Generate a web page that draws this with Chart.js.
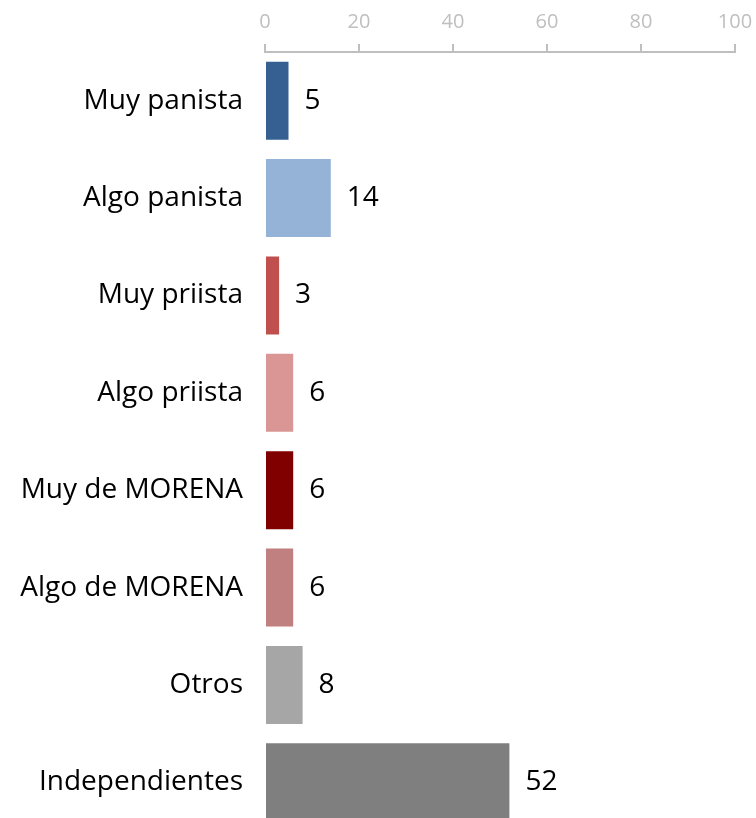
<!DOCTYPE html>
<html lang="es">
<head>
    <meta charset="UTF-8">
    <title>Identificación partidista</title>
    <script src="https://cdn.jsdelivr.net/npm/chart.js"></script>
    <style>
        html, body { margin: 0; padding: 0; background: #fff; overflow: hidden; }
        canvas { display: block; }
    </style>
</head>
<body>
    <canvas id="myChart" width="756" height="831"></canvas>
    <script>
        // categories and values
        const categories = ['Muy panista', 'Algo panista', 'Muy priista', 'Algo priista',
            'Muy de MORENA', 'Algo de MORENA', 'Otros', 'Independientes'];
        const values = [5, 14, 3, 6, 6, 6, 8, 52];
        const barColors = ['#376092', '#95B3D7', '#C0504D', '#D99694',
            '#800000', '#C0807F', '#A6A6A6', '#7F7F7F'];
        const xTicks = [0, 20, 40, 60, 80, 100];

        const FONT = "'Open Sans', sans-serif";

        // draws the value to the right of each bar
        const valueLabels = {
            id: 'valueLabels',
            afterDatasetsDraw(chart) {
                const ctx = chart.ctx;
                const meta = chart.getDatasetMeta(0);
                ctx.save();
                ctx.font = '28px ' + FONT;
                ctx.fillStyle = '#000';
                ctx.textAlign = 'left';
                ctx.textBaseline = 'middle';
                meta.data.forEach((bar, i) => {
                    ctx.fillText(String(values[i]), bar.x + 16, bar.y);
                });
                ctx.restore();
            }
        };

        const ctx = document.getElementById('myChart').getContext('2d');
        new Chart(ctx, {
            type: 'bar',
            data: {
                labels: categories,
                datasets: [{
                    data: values,
                    backgroundColor: barColors,
                    borderWidth: 0,
                    barPercentage: 0.8,
                    categoryPercentage: 1
                }]
            },
            options: {
                indexAxis: 'y',
                responsive: false,
                animation: false,
                layout: { padding: { top: 0, right: 21, bottom: 0, left: 0 } },
                plugins: {
                    legend: { display: false },
                    tooltip: { enabled: false }
                },
                scales: {
                    x: {
                        position: 'top',
                        min: 0,
                        max: 100,
                        afterBuildTicks: (scale) => {
                            scale.ticks = xTicks.map(v => ({ value: v }));
                        },
                        afterFit: (scale) => {
                            scale.height = 52;
                            scale.paddingLeft = 0;
                            scale.paddingRight = 0;
                        },
                        grid: {
                            drawOnChartArea: false,
                            drawTicks: true,
                            tickLength: 8,
                            color: '#BFBFBF',
                            lineWidth: 2
                        },
                        border: { display: true, color: '#BFBFBF', width: 2 },
                        ticks: {
                            color: '#BFBFBF',
                            font: { family: FONT, size: 20 },
                            padding: 10,
                            maxRotation: 0
                        }
                    },
                    y: {
                        afterFit: (scale) => {
                            scale.width = 265;
                            scale.paddingTop = 0;
                            scale.paddingBottom = 0;
                        },
                        grid: { display: false, drawTicks: false },
                        border: { display: false },
                        ticks: {
                            color: '#000',
                            font: { family: FONT, size: 28 },
                            padding: 22
                        }
                    }
                }
            },
            plugins: [valueLabels]
        });
    </script>
</body>
</html>
